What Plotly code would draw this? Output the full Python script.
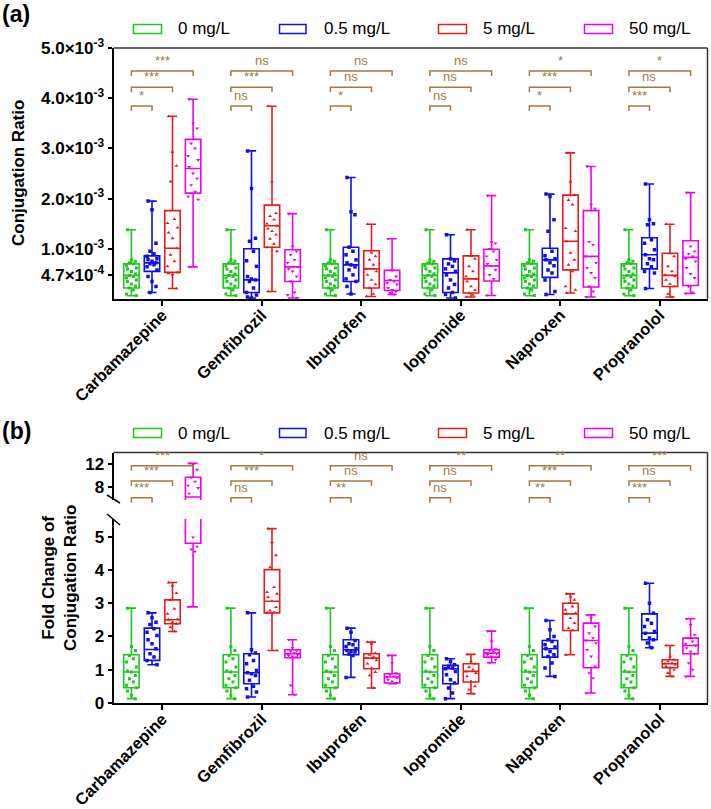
import plotly.graph_objects as go

W, H = 711, 809

drugs = ["Carbamazepine", "Gemfibrozil", "Ibuprofen", "Iopromide", "Naproxen", "Propranolol"]
doses = ["0 mg/L", "0.5 mg/L", "5 mg/L", "50 mg/L"]
colors = ["#1ec81e", "#1010e6", "#e81c1c", "#f000f0"]
symbols = ["square", "square", "triangle-up", "triangle-down"]
brown = "#a57a45"

# ---- panel (a): conjugation ratio, in units of 1e-3 ----
a_ticks = [0.47, 1, 2, 3, 4, 5]
a_ticktext = ["4.7×10<sup>-4</sup>", "1.0×10<sup>-3</sup>", "2.0×10<sup>-3</sup>",
              "3.0×10<sup>-3</sup>", "4.0×10<sup>-3</sup>", "5.0×10<sup>-3</sup>"]

a_lower = [[0.066] * 6,
           [0.13, 0.02, 0.10, 0.02, 0.09, 0.21],
           [0.21, 0.15, 0.05, 0.04, 0.12, 0.04],
           [0.64, 0.02, 0.09, 0.07, 0.04, 0.11]]
a_q1 = [[0.22] * 6,
        [0.55, 0.13, 0.35, 0.13, 0.43, 0.60],
        [0.53, 1.03, 0.22, 0.12, 0.58, 0.25],
        [2.11, 0.35, 0.17, 0.36, 0.24, 0.27]]
a_med = [[0.47] * 6,
         [0.72, 0.38, 0.68, 0.52, 0.78, 0.88],
         [1.01, 1.46, 0.60, 0.40, 1.15, 0.47],
         [2.60, 0.64, 0.37, 0.66, 0.85, 0.83]]
a_q3 = [[0.70] * 6,
        [0.86, 1.00, 1.03, 0.80, 1.01, 1.22],
        [1.76, 1.87, 0.96, 0.86, 2.07, 0.91],
        [3.18, 0.98, 0.57, 0.99, 1.76, 1.16]]
a_upper = [[1.38] * 6,
           [1.95, 2.95, 2.42, 1.28, 2.09, 2.29],
           [3.64, 3.84, 1.49, 1.38, 2.91, 1.49],
           [3.98, 1.70, 1.20, 2.06, 2.64, 2.12]]

a_pts_ctrl = [1.38, 0.78, 0.75, 0.72, 0.70, 0.66, 0.62, 0.60, 0.55, 0.50, 0.47, 0.45,
              0.42, 0.38, 0.35, 0.30, 0.26, 0.22, 0.18, 0.10, 0.07]
a_pts_05 = [
    [1.95, 1.78, 1.11, 0.95, 0.90, 0.85, 0.80, 0.78, 0.75, 0.72, 0.70, 0.68, 0.64, 0.58, 0.45, 0.35, 0.25, 0.13],
    [2.95, 2.20, 1.21, 1.15, 0.95, 0.76, 0.65, 0.45, 0.40, 0.38, 0.35, 0.22, 0.13, 0.08, 0.04, 0.02],
    [2.42, 1.74, 1.68, 1.03, 0.95, 0.88, 0.78, 0.72, 0.68, 0.64, 0.58, 0.48, 0.40, 0.35, 0.25, 0.10],
    [1.28, 0.80, 0.76, 0.70, 0.65, 0.60, 0.55, 0.48, 0.38, 0.29, 0.22, 0.13, 0.09, 0.02],
    [2.09, 2.04, 1.58, 1.35, 0.95, 0.86, 0.80, 0.78, 0.72, 0.66, 0.58, 0.52, 0.38, 0.15, 0.09],
    [2.29, 1.58, 1.50, 1.48, 1.18, 1.11, 0.98, 0.88, 0.80, 0.78, 0.70, 0.64, 0.55, 0.52, 0.21]]
a_pts_5 = [
    [3.64, 2.93, 2.65, 2.34, 1.59, 1.51, 1.42, 1.32, 1.21, 1.01, 0.88, 0.75, 0.65, 0.53, 0.51, 0.49, 0.21],
    [3.84, 2.34, 1.71, 1.65, 1.58, 1.50, 1.46, 1.40, 1.35, 1.28, 1.20, 1.10, 1.03, 0.95, 0.15],
    [1.49, 0.92, 0.85, 0.78, 0.68, 0.60, 0.55, 0.48, 0.38, 0.29, 0.22, 0.10, 0.05],
    [1.38, 0.86, 0.80, 0.65, 0.55, 0.45, 0.40, 0.35, 0.25, 0.18, 0.12, 0.08, 0.04],
    [2.91, 2.34, 2.07, 1.97, 1.88, 1.41, 1.35, 1.15, 0.92, 0.78, 0.68, 0.55, 0.25, 0.18, 0.12],
    [1.49, 0.91, 0.85, 0.65, 0.55, 0.48, 0.45, 0.38, 0.30, 0.25, 0.10, 0.04]]
a_pts_50 = [
    [3.98, 3.50, 3.40, 3.10, 3.00, 2.85, 2.77, 2.63, 2.50, 2.40, 2.27, 2.14, 2.04, 1.98, 0.64],
    [1.70, 1.05, 0.95, 0.88, 0.78, 0.72, 0.64, 0.60, 0.55, 0.45, 0.35, 0.13, 0.08, 0.02],
    [1.20, 0.57, 0.45, 0.38, 0.35, 0.32, 0.29, 0.22, 0.18, 0.15, 0.12, 0.09],
    [2.06, 1.14, 1.11, 1.00, 0.95, 0.85, 0.78, 0.70, 0.66, 0.58, 0.48, 0.40, 0.07],
    [2.64, 1.88, 1.80, 1.14, 1.08, 0.85, 0.72, 0.62, 0.52, 0.42, 0.25, 0.15, 0.04],
    [2.12, 1.05, 0.95, 0.90, 0.85, 0.80, 0.75, 0.62, 0.50, 0.42, 0.25, 0.13, 0.11]]

a_sig = [["*", "***", "***"], ["ns", "***", "ns"], ["*", "ns", "ns"],
         ["ns", "ns", "ns"], ["*", "***", "*"], ["***", "ns", "*"]]

# ---- panel (b): fold change ----
b_ticks_low = [0, 1, 2, 3, 4, 5]
b_ticks_high = [8, 12]

b_lower = [[0.13] * 6,
           [1.15, 0.18, 0.77, 0.13, 0.80, 1.66],
           [2.15, 1.58, 0.45, 0.28, 1.45, 0.80],
           [2.89, 0.25, 0.58, 1.21, 0.30, 0.80]]
b_q1 = [[0.46] * 6,
        [1.28, 0.58, 1.45, 0.58, 1.38, 1.90],
        [2.38, 2.71, 1.03, 0.63, 2.18, 1.06],
        [4.80, 1.36, 0.60, 1.38, 1.06, 1.48]]
b_med = [[0.93] * 6,
         [1.61, 0.91, 1.60, 1.03, 1.63, 2.10],
         [2.50, 3.06, 1.35, 0.95, 2.68, 1.18],
         [6.20, 1.48, 0.78, 1.50, 1.88, 1.73]]
b_q3 = [[1.45] * 6,
        [2.25, 1.48, 1.90, 1.13, 1.88, 2.68],
        [3.10, 4.01, 1.48, 1.18, 3.00, 1.30],
        [9.67, 1.60, 0.88, 1.60, 2.40, 1.95]]
b_upper = [[2.85] * 6,
           [2.71, 2.71, 2.25, 1.33, 2.48, 3.60],
           [3.62, 5.24, 1.83, 1.46, 3.28, 1.73],
           [12.1, 1.90, 1.43, 2.16, 2.65, 2.53]]

b_pts_ctrl = [2.85, 1.70, 1.58, 1.43, 1.33, 1.23, 1.08, 0.96, 0.93, 0.83, 0.73, 0.63,
              0.53, 0.46, 0.36, 0.23, 0.13]
b_pts_05 = [
    [2.71, 2.56, 2.43, 2.36, 2.23, 2.13, 2.03, 1.90, 1.78, 1.63, 1.48, 1.38, 1.28, 1.15],
    [2.71, 1.60, 1.50, 1.45, 1.28, 1.18, 0.98, 0.91, 0.88, 0.83, 0.68, 0.50, 0.43, 0.33, 0.18],
    [2.25, 2.13, 1.88, 1.78, 1.75, 1.70, 1.63, 1.58, 1.55, 1.53, 1.47, 1.43, 0.77],
    [1.33, 1.25, 1.15, 1.10, 1.05, 1.03, 0.95, 0.85, 0.70, 0.60, 0.45, 0.30, 0.13],
    [2.48, 2.20, 2.00, 1.90, 1.85, 1.75, 1.68, 1.63, 1.55, 1.45, 1.40, 1.20, 1.05, 0.80],
    [3.60, 3.00, 2.70, 2.50, 2.40, 2.30, 2.15, 2.10, 1.95, 1.90, 1.80, 1.66]]
b_pts_5 = [
    [3.62, 3.53, 3.30, 3.10, 2.83, 2.68, 2.52, 2.50, 2.43, 2.38, 2.28, 2.15],
    [5.24, 4.83, 4.44, 4.08, 3.48, 3.33, 3.28, 3.18, 3.06, 2.88, 2.78, 2.73, 2.71, 1.58],
    [1.83, 1.78, 1.50, 1.45, 1.38, 1.35, 1.28, 1.18, 1.05, 0.93, 0.83, 0.45],
    [1.46, 1.25, 1.18, 1.08, 1.00, 0.95, 0.90, 0.80, 0.65, 0.50, 0.40, 0.28],
    [3.28, 3.20, 3.10, 3.00, 2.90, 2.80, 2.70, 2.68, 2.55, 2.40, 2.25, 2.18, 1.45],
    [1.73, 1.40, 1.30, 1.25, 1.20, 1.18, 1.15, 1.10, 1.06, 1.00, 0.90, 0.80]]
b_pts_50 = [
    [12.1, 11.8, 11.0, 9.6, 8.9, 8.2, 7.8, 6.8, 4.98, 4.70, 4.62, 4.55, 2.89],
    [1.90, 1.66, 1.58, 1.55, 1.50, 1.48, 1.45, 1.43, 1.40, 1.38, 0.53, 0.25],
    [1.43, 1.20, 0.90, 0.85, 0.80, 0.78, 0.75, 0.70, 0.65, 0.60],
    [2.16, 1.85, 1.62, 1.58, 1.55, 1.50, 1.48, 1.45, 1.40, 1.30, 1.21],
    [2.65, 2.55, 2.30, 2.10, 1.95, 1.88, 1.80, 1.60, 1.40, 1.10, 0.90, 0.75, 0.30],
    [2.53, 2.35, 2.05, 1.95, 1.85, 1.78, 1.73, 1.65, 1.55, 1.48, 1.20, 1.00, 0.80]]

b_sig = [["***", "***", "***"], ["ns", "***", "*"], ["**", "ns", "ns"],
         ["ns", "ns", "**"], ["**", "***", "**"], ["***", "ns", "***"]]

# ---- layout geometry (pixels) ----
X0, X1 = 113.5, 707.5
XR = [-0.49, 5.48]
offsets = [-0.31, -0.103, 0.103, 0.31]
box_w = 0.155
jitter = [-0.04, 0.0, 0.04, -0.02, 0.02, -0.05, 0.05]
FONT = "Liberation Sans, Arial, sans-serif"


def fx(px):
    return px / W


def fy(py):
    return 1 - py / H


fig = go.Figure()


def add_panel(xa, ya, lower, q1, med, q3, upper, pts_ctrl, pts_groups):
    for g in range(4):
        xs = [i + offsets[g] for i in range(len(drugs))]
        fig.add_trace(go.Box(
            x=xs, lowerfence=lower[g], q1=q1[g], median=med[g], q3=q3[g], upperfence=upper[g],
            width=box_w, whiskerwidth=0.6, boxpoints=False,
            line=dict(color=colors[g], width=1.6), fillcolor="rgba(0,0,0,0)",
            xaxis=xa, yaxis=ya, hoverinfo="skip"))
        px, py = [], []
        for i in range(len(drugs)):
            vals = pts_ctrl if g == 0 else pts_groups[g - 1][i]
            for k, v in enumerate(vals):
                px.append(i + offsets[g] + jitter[k % len(jitter)])
                py.append(v)
        fig.add_trace(go.Scatter(
            x=px, y=py, mode="markers", xaxis=xa, yaxis=ya, hoverinfo="skip",
            marker=dict(symbol=symbols[g], size=3.5 if g else 3, color=colors[g], line=dict(width=0))))


add_panel("x", "y", a_lower, a_q1, a_med, a_q3, a_upper, a_pts_ctrl, [a_pts_05, a_pts_5, a_pts_50])
add_panel("x2", "y2", b_lower, b_q1, b_med, b_q3, b_upper, b_pts_ctrl, [b_pts_05, b_pts_5, b_pts_50])
add_panel("x3", "y3", b_lower, b_q1, b_med, b_q3, b_upper, b_pts_ctrl, [b_pts_05, b_pts_5, b_pts_50])

tickfont = dict(family=FONT, size=17, color="black", weight="bold")
xdom = [fx(X0), fx(X1)]
xcommon = dict(domain=xdom, range=XR, tickvals=list(range(len(drugs))), ticktext=drugs,
               tickangle=-45, tickfont=dict(family=FONT, size=16.5, color="black", weight="bold"),
               ticklabelstandoff=-7,
               showline=True, linecolor="black", linewidth=2, ticks="outside", ticklen=5,
               tickwidth=1.5, tickcolor="black", showgrid=False, zeroline=False, automargin=False)
ycommon = dict(showline=True, linecolor="black", linewidth=2, ticks="outside", ticklen=4,
               tickwidth=1.5, tickcolor="black", showgrid=False, zeroline=False,
               tickfont=tickfont, automargin=False)

fig.update_layout(
    width=W, height=H, margin=dict(l=0, r=0, t=0, b=0),
    paper_bgcolor="white", plot_bgcolor="white", showlegend=False,
    xaxis=dict(anchor="y", **xcommon),
    yaxis=dict(anchor="x", domain=[fy(299), fy(48)], range=[0, 5], tickvals=a_ticks,
               ticktext=a_ticktext, **ycommon),
    xaxis2=dict(anchor="y2", **xcommon),
    yaxis2=dict(anchor="x2", domain=[fy(703), fy(519)], range=[0, 5.53], tickvals=b_ticks_low,
                **ycommon),
    xaxis3=dict(anchor="y3", domain=xdom, range=XR, visible=False, matches="x2"),
    yaxis3=dict(anchor="x3", domain=[fy(500), fy(452.5)], range=[5.68, 14.0],
                tickvals=b_ticks_high, **ycommon),
)

shapes = []
ann = []

# frames
shapes.append(dict(type="line", xref="paper", yref="paper", x0=fx(X0), x1=fx(X1), y0=fy(48), y1=fy(48),
                   line=dict(color="#333", width=1.5)))
shapes.append(dict(type="line", xref="paper", yref="paper", x0=fx(X1), x1=fx(X1), y0=fy(48), y1=fy(299),
                   line=dict(color="#333", width=1.5)))
shapes.append(dict(type="line", xref="paper", yref="paper", x0=fx(X0), x1=fx(X1), y0=fy(452.5), y1=fy(452.5),
                   line=dict(color="#333", width=1.5)))
shapes.append(dict(type="line", xref="paper", yref="paper", x0=fx(X1), x1=fx(X1), y0=fy(452.5), y1=fy(703),
                   line=dict(color="#333", width=1.5)))
# axis break marks
for (x0, y0, x1, y1) in [(107, 495, 120, 503), (107, 514, 120, 525)]:
    shapes.append(dict(type="line", xref="paper", yref="paper", x0=fx(x0), y0=fy(y0), x1=fx(x1), y1=fy(y1),
                       line=dict(color="black", width=1.5)))


# significance brackets
def brackets(xref, levels, sig):
    for i in range(len(drugs)):
        for j, lev in enumerate(levels):
            xl = i + offsets[0]
            xr = i + offsets[j + 1]
            path = "M {} {} L {} {} L {} {} L {} {}".format(
                xl, fy(lev + 5), xl, fy(lev), xr, fy(lev), xr, fy(lev + 5))
            shapes.append(dict(type="path", xref=xref, yref="paper", path=path,
                               line=dict(color=brown, width=1.5)))
            txt = sig[i][j]
            ann.append(dict(x=(xl + xr) / 2, y=fy(lev - 1), xref=xref, yref="paper",
                            text=txt, showarrow=False, yanchor="bottom",
                            font=dict(family=FONT, size=13, color=brown)))


brackets("x", [106, 87.3, 71], a_sig)
brackets("x2", [497.7, 481, 465.7], b_sig)

# legends
leg_x = [(133.5, 161.5, 176), (279.5, 306, 322), (438.5, 466.5, 481), (584.5, 612.5, 627)]
for ly in [29, 433]:
    for g, (i0, i1, tx) in enumerate(leg_x):
        shapes.append(dict(type="rect", xref="paper", yref="paper", x0=fx(i0), x1=fx(i1),
                           y0=fy(ly + 4.5), y1=fy(ly - 4.5), line=dict(color=colors[g], width=1.5)))
        ann.append(dict(x=fx(tx), y=fy(ly), xref="paper", yref="paper", text=doses[g],
                        showarrow=False, xanchor="left", yanchor="middle",
                        font=dict(family=FONT, size=17, color="black")))

# panel labels and axis titles
ann.append(dict(x=fx(0), y=fy(14), xref="paper", yref="paper", text="(a)", showarrow=False,
                xanchor="left", yanchor="middle", font=dict(family=FONT, size=23, color="black", weight="bold")))
ann.append(dict(x=fx(0), y=fy(431), xref="paper", yref="paper", text="(b)", showarrow=False,
                xanchor="left", yanchor="middle", font=dict(family=FONT, size=23, color="black", weight="bold")))
ann.append(dict(x=fx(18), y=fy(173), xref="paper", yref="paper", text="Conjugation Ratio",
                showarrow=False, textangle=-90, xanchor="center", yanchor="middle",
                font=dict(family=FONT, size=17, color="black", weight="bold")))
ann.append(dict(x=fx(59), y=fy(578), xref="paper", yref="paper", text="Fold Change of<br>Conjugation Ratio",
                showarrow=False, textangle=-90, xanchor="center", yanchor="middle",
                font=dict(family=FONT, size=17, color="black", weight="bold")))

fig.update_layout(shapes=shapes, annotations=ann)
fig.write_html("out.html", config={"displayModeBar": False},
               post_script="document.body.style.margin='0';")
